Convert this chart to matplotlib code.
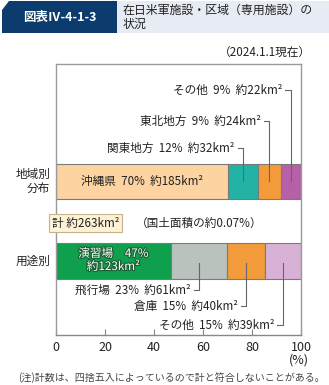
import matplotlib
matplotlib.use("Agg")
import matplotlib.pyplot as plt
from matplotlib.patches import Polygon, Rectangle
import matplotlib.patheffects as pe

plt.rcParams['font.family'] = ['Noto Sans CJK JP', 'DejaVu Sans']

# data
region_names = ["沖縄県", "関東地方", "東北地方", "その他"]
region_pct = [70, 12, 9, 9]
region_area = [185, 32, 24, 22]
region_colors = ["#FCD3A1", "#22B3A5", "#F39B3A", "#B660A8"]

use_names = ["演習場", "飛行場", "倉庫", "その他"]
use_pct = [47, 23, 15, 15]
use_area = [123, 61, 40, 39]
use_colors = ["#0EA04D", "#B9C2BD", "#F39B3A", "#D8B2D6"]

total_area = 263
xticks = [0, 20, 40, 60, 80, 100]

W, H = 329, 385
fig = plt.figure(figsize=(W / 100, H / 100), dpi=100)


def fx(px):
    return px / W


def fy(py):
    return 1 - py / H


# header
fig.add_artist(Rectangle((fx(117), fy(33)), fx(329) - fx(117), fy(1) - fy(33),
                         transform=fig.transFigure, color="#E7EBF4", lw=0))
fig.add_artist(Polygon([(fx(2), fy(10)), (fx(9), fy(1)), (fx(117), fy(1)),
                        (fx(117), fy(33)), (fx(2), fy(33))],
                       transform=fig.transFigure, color="#0C3B6E", lw=0))
fig.text(fx(60), fy(17), "図表Ⅳ-4-1-3", color="white", fontsize=9,
         fontweight="bold", ha="center", va="center")
fig.text(fx(123), fy(4), "在日米軍施設・区域（専用施設）の\n状況", fontsize=8.6,
         color="#222222", ha="left", va="top", linespacing=1.12)
fig.text(fx(311), fy(53), "（2024.1.1現在）", fontsize=8.4, color="#222222",
         ha="right", va="center")

ax = fig.add_axes([fx(56), fy(335), fx(301) - fx(56), fy(64) - fy(335)])
ax.set_xlim(0, 100)
ax.set_ylim(335, 64)  # y in pixels from top

# upper bar: regions
r_w = [a / total_area * 100 for a in region_area]
r_left = [sum(r_w[:i]) for i in range(len(r_w))]
ax.barh(181, r_w, left=r_left, height=35, color=region_colors,
        edgecolor="#7a7a7a", linewidth=0.8)

cx = r_left[0] + r_w[0] / 2
ax.text(cx, 181, f"{region_names[0]}  {region_pct[0]}%  約{region_area[0]}km²",
        fontsize=8.4, ha="center", va="center", color="#222222")

label_y = [None, 148, 121, 90]
for i in range(1, 4):
    cx = r_left[i] + r_w[i] / 2
    ly = label_y[i]
    ax.plot([cx, cx, cx - 2.2], [181, ly, ly], color="#666666", lw=0.8)
    ax.text(cx - 3.4, ly, f"{region_names[i]}  {region_pct[i]}%  約{region_area[i]}km²",
            fontsize=8.4, ha="right", va="center", color="#222222")

# lower bar: use
u_w = [a / total_area * 100 for a in use_area]
u_left = [sum(u_w[:i]) for i in range(len(u_w))]
ax.barh(261, u_w, left=u_left, height=36, color=use_colors,
        edgecolor="#7a7a7a", linewidth=0.8)

cx = u_left[0] + u_w[0] / 2
ax.text(cx, 260, f"{use_names[0]}　{use_pct[0]}%\n約{use_area[0]}km²",
        fontsize=8.4, ha="center", va="center", color="white", linespacing=1.0,
        path_effects=[pe.withStroke(linewidth=1.6, foreground="#1b5e33")])

label_y2 = [None, 290, 306, 325]
for i in range(1, 4):
    cx = u_left[i] + u_w[i] / 2
    ly = label_y2[i]
    ax.plot([cx, cx, cx - 2.2], [263, ly, ly], color="#666666", lw=0.8)
    ax.text(cx - 3.4, ly, f"{use_names[i]}  {use_pct[i]}%  約{use_area[i]}km²",
            fontsize=8.4, ha="right", va="center", color="#222222")

# frame and ticks
for s in ax.spines.values():
    s.set_color("#9a9a9a")
    s.set_linewidth(1)
ax.spines["bottom"].set_color("#888888")
ax.set_xticks(xticks)
ax.set_xticklabels([str(t) for t in xticks])
ax.tick_params(axis="x", direction="in", length=4, color="#888888",
               labelsize=9, pad=4, labelcolor="#222222")
ax.set_yticks([])

fig.text(fx(299), fy(360), "(%)", fontsize=9, ha="center", va="center", color="#222222")

# row labels
fig.text(fx(50), fy(181), "地域別\n分布", fontsize=8.4, ha="right", va="center",
         multialignment="right", linespacing=1.1, color="#222222")
fig.text(fx(50), fy(261), "用途別", fontsize=8.4, ha="right", va="center", color="#222222")

# total
fig.text(fx(52), fy(223), f"計 約{total_area}km²", fontsize=8.4, ha="left", va="center",
         color="#222222",
         bbox=dict(boxstyle="square,pad=0.25", fc="#FDF2D6", ec="#C9B38A", lw=0.8))
fig.text(fx(136), fy(223), "（国土面積の約0.07%）", fontsize=8.4, ha="left", va="center",
         color="#222222")

fig.text(fx(18), fy(378), "(注)計数は、四捨五入によっているので計と符合しないことがある。",
         fontsize=7.2, ha="left", va="center", color="#444444")

fig.savefig("out.png", dpi=100)
